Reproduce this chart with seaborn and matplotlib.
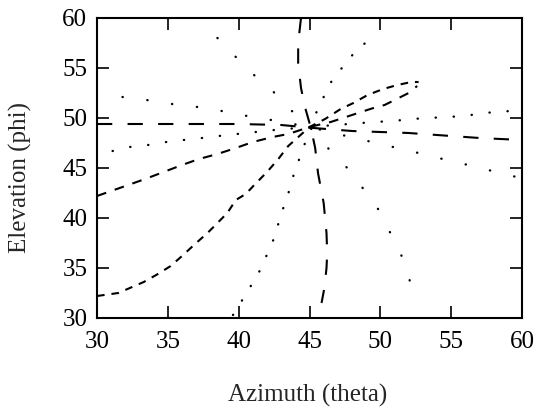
import matplotlib
matplotlib.use("Agg")
import matplotlib.pyplot as plt
import seaborn as sns
import pandas as pd

# Azimuth / elevation loci (degrees)
flat_theta = [30, 35, 40, 43, 45.3, 48, 50, 52, 55, 57, 60]
flat_phi = [49.4, 49.4, 49.4, 49.3, 49.0, 48.7, 48.6, 48.5, 48.2, 48.0, 47.8]

steep_theta = [44.4, 44.2, 44.2, 44.4, 44.7, 45.1, 45.4, 45.6, 46.0, 46.2, 46.25, 46.2, 46.05, 45.85]
steep_phi = [60.0, 57.5, 55.5, 53.0, 51.0, 49.0, 47.0, 44.5, 41.5, 38.5, 36.5, 35.0, 33.0, 31.5]

loop_a_theta = [30.0, 31.5, 33.3, 34.3, 35.2, 36.0, 37.0, 37.8, 38.5, 39.2, 39.8, 40.5, 41.1,
                42.0, 42.8, 43.5, 45.0, 46.1, 47.2, 48.1, 49.1, 50.2, 51.2, 52.2, 52.7]
loop_a_phi = [32.2, 32.5, 33.6, 34.4, 35.2, 36.2, 37.5, 38.5, 39.5, 40.5, 41.8, 42.4, 43.3,
              44.6, 45.9, 47.2, 49.1, 49.9, 50.9, 51.5, 52.3, 52.9, 53.3, 53.6, 53.6]

loop_b_theta = [30.0, 32.2, 33.4, 34.7, 36.0, 37.2, 38.5, 39.8, 41.0, 42.4, 43.5, 45.0,
                46.5, 48.0, 49.4, 50.3, 51.3, 52.0, 52.6]
loop_b_phi = [42.2, 43.3, 43.9, 44.6, 45.3, 45.9, 46.4, 47.0, 47.6, 48.1, 48.4, 49.1,
              49.6, 50.3, 50.95, 51.3, 52.0, 52.5, 53.2]

dot_a_theta = [31.8, 33.5, 35.3, 37.1, 38.8, 40.6, 42.3, 45.0, 47.3, 49.1, 50.9, 52.7, 54.4, 56.2, 57.9, 59.9]
dot_a_phi = [52.1, 51.8, 51.4, 51.1, 50.7, 50.2, 49.8, 49.1, 48.3, 47.7, 47.1, 46.5, 45.9, 45.3, 44.7, 44.0]

dot_b_theta = [31.1, 32.3, 33.6, 34.9, 36.1, 37.4, 38.6, 39.9, 41.2, 42.5, 45.0,
               49.6, 50.9, 52.2, 53.4, 54.7, 56.0, 57.2, 58.4, 59.9]
dot_b_phi = [46.7, 47.1, 47.3, 47.6, 47.8, 48.0, 48.2, 48.4, 48.6, 48.8, 49.1,
             49.6, 49.7, 49.9, 50.0, 50.1, 50.2, 50.5, 50.6, 50.8]

dot_c_theta = [38.5, 39.8, 41.0, 42.4, 43.6, 45.0, 46.3, 47.6, 48.7, 49.8, 50.6, 51.4, 52.0, 52.4]
dot_c_phi = [58.0, 56.1, 54.4, 52.7, 50.9, 49.1, 47.0, 45.1, 43.1, 41.0, 38.8, 36.6, 34.2, 31.7]

dot_d_theta = [39.6, 40.3, 40.9, 41.6, 42.1, 42.6, 42.9, 43.3, 43.7, 44.0, 44.5, 45.0,
               46.0, 46.6, 47.4, 48.2, 49.1]
dot_d_phi = [30.3, 31.9, 33.3, 35.0, 36.7, 38.3, 40.0, 41.6, 43.3, 45.0, 46.6, 49.1,
             52.1, 53.8, 55.2, 56.6, 57.7]

x_ticks = [30, 35, 40, 45, 50, 55, 60]
y_ticks = [30, 35, 40, 45, 50, 55, 60]

sns.set_style("ticks")
plt.rcParams["font.family"] = ["Liberation Serif", "DejaVu Serif"]
plt.rcParams["lines.scale_dashes"] = False

fig = plt.figure(figsize=(5.37, 4.08), dpi=100)
ax = fig.add_axes([97 / 537, 1 - 318 / 408, 425 / 537, 300 / 408])

curves = [
    (flat_theta, flat_phi, (0, (11.0, 11.0)), 1.5, "butt"),
    (steep_theta, steep_phi, (0, (11.0, 11.0)), 1.5, "butt"),
    (loop_a_theta, loop_a_phi, (0, (5.5, 5.0)), 1.5, "butt"),
    (loop_b_theta, loop_b_phi, (0, (7.0, 6.5)), 1.5, "butt"),
    (dot_a_theta, dot_a_phi, (0, (0.2, 17.8)), 1.7, "round"),
    (dot_b_theta, dot_b_phi, (0, (0.2, 12.8)), 1.7, "round"),
    (dot_c_theta, dot_c_phi, (0, (0.2, 18.6)), 1.7, "round"),
    (dot_d_theta, dot_d_phi, (0, (0.2, 12.0)), 1.7, "round"),
]

for th, ph, ls, lw, cap in curves:
    df = pd.DataFrame({"theta": th, "phi": ph})
    sns.lineplot(data=df, x="theta", y="phi", ax=ax, sort=False, estimator=None,
                 color="black", linewidth=lw, linestyle=ls, dash_capstyle=cap)

ax.set_xlim(30, 60)
ax.set_ylim(30, 60)
ax.set_xticks(x_ticks)
ax.set_yticks(y_ticks)
ax.set_xticklabels([str(v) for v in x_ticks])
ax.set_yticklabels([str(v) for v in y_ticks])

for s in ax.spines.values():
    s.set_visible(True)
    s.set_linewidth(1.5)
    s.set_color("black")

ax.tick_params(direction="in", top=True, right=True, length=8.5, width=1.2,
               labelsize=18, colors="black", pad=7)
ax.tick_params(axis="x", pad=9)

ax.set_xlabel("Azimuth (theta)", fontsize=18, va="center")
ax.set_ylabel("Elevation (phi)", fontsize=18, va="center")
ax.xaxis.set_label_coords(0.496, -0.257)
ax.yaxis.set_label_coords(-0.181, 0.467)

fig.savefig("out.png", dpi=100)
